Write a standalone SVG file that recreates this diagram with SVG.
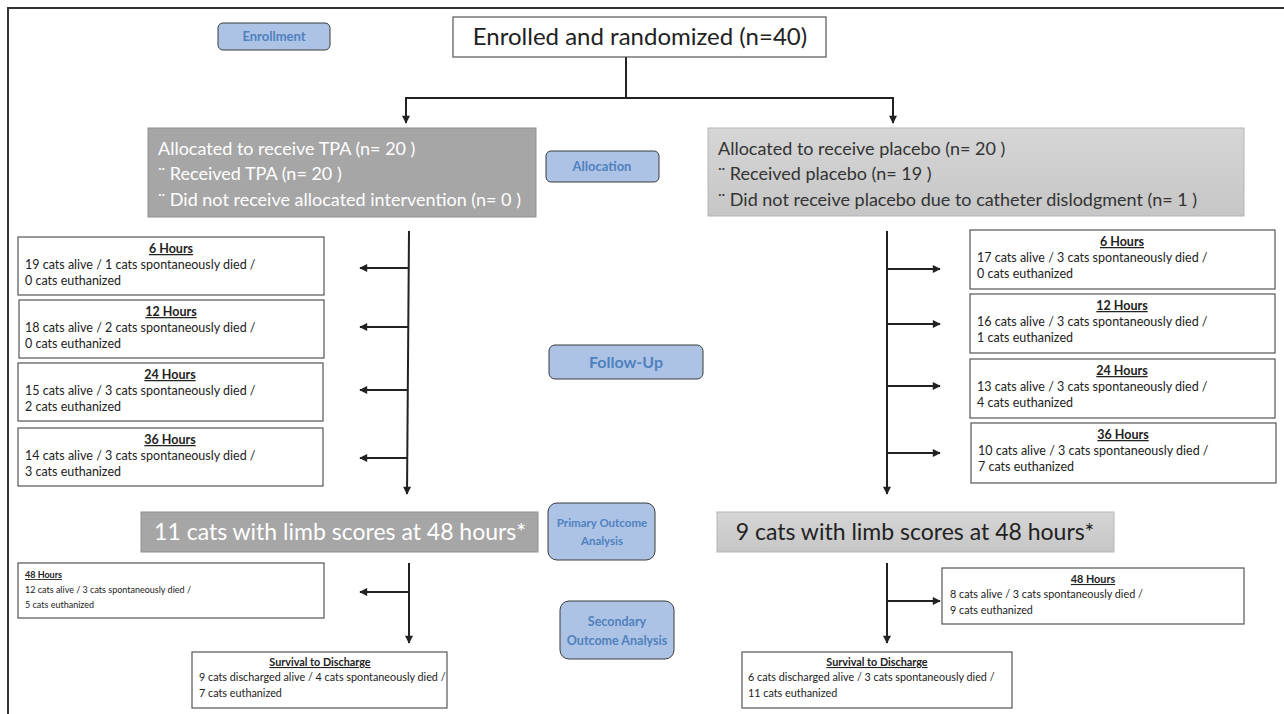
<svg xmlns="http://www.w3.org/2000/svg" width="1284" height="714" viewBox="0 0 1284 714">
<defs>
<marker id="ah" viewBox="0 0 10 10" refX="9" refY="5" markerWidth="9" markerHeight="8" markerUnits="userSpaceOnUse" orient="auto">
<path d="M0,0 L10,5 L0,10 Z" fill="#222"/>
</marker>
<linearGradient id="lg" x1="0" y1="0" x2="0" y2="1">
<stop offset="0" stop-color="#d6d6d6"/>
<stop offset="1" stop-color="#c6c6c6"/>
</linearGradient>
<style>
text{font-family:Lato,"Liberation Sans",sans-serif;}
.btn{fill:#adc3e6;stroke:#3a3a3a;stroke-width:1;}
.btnt{fill:#4f81bd;font-weight:bold;font-size:13px;text-anchor:middle;}
.wb{fill:#fff;stroke:#555;stroke-width:1.2;}
.t{fill:#222;font-size:12.5px;}
.tt{fill:#222;font-size:12.5px;font-weight:bold;text-decoration:underline;}
.s{font-size:10.8px;}
.xs{font-size:9px;}
.c{text-anchor:middle;}
.dk{fill:#a6a6a6;stroke:#8f8f8f;stroke-width:1;}
.lt{fill:url(#lg);stroke:#b5b5b5;stroke-width:1;}
.wt{fill:#fff;font-size:18px;}
.gt{fill:#333;font-size:18px;}
.ln{stroke:#222;stroke-width:2;fill:none;}
.ar{stroke:#222;stroke-width:2;fill:none;marker-end:url(#ah);}
</style>
</defs>
<rect x="0" y="0" width="1284" height="714" fill="#fff"/>
<path d="M8,714 V8 H1284" fill="none" stroke="#333" stroke-width="2"/>

<g id="connectors">
<path class="ln" d="M626,57 V98"/>
<path class="ar" d="M626,98 H406 V123"/>
<path class="ar" d="M626,98 H893 V123"/>
<path class="ar" d="M409,231 L407,494"/>
<path class="ar" d="M409,268 H360"/>
<path class="ar" d="M409,327 H360"/>
<path class="ar" d="M408,390 H360"/>
<path class="ar" d="M408,458 H360"/>
<path class="ar" d="M887,231 V494"/>
<path class="ar" d="M887,269 H940"/>
<path class="ar" d="M887,324 H940"/>
<path class="ar" d="M887,386 H940"/>
<path class="ar" d="M887,453 H940"/>
<path class="ar" d="M409,563 V643"/>
<path class="ar" d="M409,592 H360"/>
<path class="ar" d="M887,563 V643"/>
<path class="ar" d="M887,601 H940"/>
</g>

<g id="enrollment"><rect class="btn" x="218" y="23" width="112" height="27" rx="5"/><text class="btnt" x="274" y="41">Enrollment</text></g>
<g id="enrolled"><rect class="wb" x="453" y="17" width="373" height="40"/><text x="640" y="45" class="c" style="fill:#222;font-size:24px;">Enrolled and randomized (n=40)</text></g>

<g id="alloc-tpa"><rect class="dk" x="148" y="128" width="388" height="89"/>
<text class="wt" x="158" y="155">Allocated to receive TPA (n= 20 )</text>
<text class="wt" x="158" y="180">¨ Received TPA (n= 20 )</text>
<text class="wt" x="158" y="206">¨ Did not receive allocated intervention (n= 0 )</text></g>
<g id="allocation"><rect class="btn" x="546" y="151" width="113" height="31" rx="5"/><text class="btnt" x="602" y="171">Allocation</text></g>
<g id="alloc-placebo"><rect class="lt" x="708" y="128" width="536" height="88"/>
<text class="gt" x="718" y="155">Allocated to receive placebo (n= 20 )</text>
<text class="gt" x="718" y="180">¨ Received placebo (n= 19 )</text>
<text class="gt" x="718" y="206">¨ Did not receive placebo due to catheter dislodgment (n= 1 )</text></g>

<g id="l6"><rect class="wb" x="18" y="237" width="306" height="58"/><text class="tt c" x="171" y="253">6 Hours</text><text class="t" x="25" y="269">19 cats alive / 1 cats spontaneously died /</text><text class="t" x="25" y="285">0 cats euthanized</text></g>
<g id="l12"><rect class="wb" x="19" y="300" width="305" height="58"/><text class="tt c" x="171" y="316">12 Hours</text><text class="t" x="25" y="332">18 cats alive / 2 cats spontaneously died /</text><text class="t" x="25" y="348">0 cats euthanized</text></g>
<g id="l24"><rect class="wb" x="18" y="363" width="305" height="58"/><text class="tt c" x="170" y="379">24 Hours</text><text class="t" x="25" y="395">15 cats alive / 3 cats spontaneously died /</text><text class="t" x="25" y="411">2 cats euthanized</text></g>
<g id="l36"><rect class="wb" x="18" y="428" width="305" height="58"/><text class="tt c" x="170" y="444">36 Hours</text><text class="t" x="25" y="460">14 cats alive / 3 cats spontaneously died /</text><text class="t" x="25" y="476">3 cats euthanized</text></g>

<g id="followup"><rect class="btn" x="549" y="345" width="154" height="34" rx="6"/><text class="btnt" x="626" y="368" style="font-size:16px;">Follow-Up</text></g>

<g id="r6"><rect class="wb" x="970" y="230" width="305" height="59"/><text class="tt c" x="1122" y="246">6 Hours</text><text class="t" x="977" y="262">17 cats alive / 3 cats spontaneously died /</text><text class="t" x="977" y="278">0 cats euthanized</text></g>
<g id="r12"><rect class="wb" x="970" y="294" width="305" height="59"/><text class="tt c" x="1122" y="310">12 Hours</text><text class="t" x="977" y="326">16 cats alive / 3 cats spontaneously died /</text><text class="t" x="977" y="342">1 cats euthanized</text></g>
<g id="r24"><rect class="wb" x="970" y="359" width="305" height="59"/><text class="tt c" x="1122" y="375">24 Hours</text><text class="t" x="977" y="391">13 cats alive / 3 cats spontaneously died /</text><text class="t" x="977" y="407">4 cats euthanized</text></g>
<g id="r36"><rect class="wb" x="971" y="423" width="305" height="60"/><text class="tt c" x="1123" y="439">36 Hours</text><text class="t" x="978" y="455">10 cats alive / 3 cats spontaneously died /</text><text class="t" x="978" y="471">7 cats euthanized</text></g>

<g id="primary-tpa"><rect class="dk" x="141" y="512" width="397" height="40"/><text x="340" y="540" class="c" style="fill:#fff;font-size:23px;">11 cats with limb scores at 48 hours*</text></g>
<g id="primary"><rect class="btn" x="548" y="503" width="107" height="57" rx="9"/><text class="btnt" x="602" y="527" style="font-size:11.5px;">Primary Outcome</text><text class="btnt" x="602" y="545" style="font-size:11.5px;">Analysis</text></g>
<g id="primary-placebo"><rect class="lt" x="717" y="512" width="397" height="40"/><text x="915" y="540" class="c" style="fill:#222;font-size:23px;">9 cats with limb scores at 48 hours*</text></g>

<g id="l48"><rect class="wb" x="18" y="563" width="306" height="55"/><text class="tt xs" x="25" y="578">48 Hours</text><text class="t xs" x="25" y="593">12 cats alive / 3 cats spontaneously died /</text><text class="t xs" x="25" y="608">5 cats euthanized</text></g>
<g id="secondary"><rect class="btn" x="560" y="601" width="114" height="58" rx="9"/><text class="btnt" x="617" y="626" style="font-size:12.5px;">Secondary</text><text class="btnt" x="617" y="645" style="font-size:12.5px;">Outcome Analysis</text></g>
<g id="r48"><rect class="wb" x="942" y="568" width="302" height="56"/><text class="tt c s" x="1093" y="583">48 Hours</text><text class="t s" x="950" y="598">8 cats alive / 3 cats spontaneously died /</text><text class="t s" x="950" y="614">9 cats euthanized</text></g>

<g id="ls"><rect class="wb" x="192" y="652" width="255" height="56"/><text class="tt c s" x="320" y="666">Survival to Discharge</text><text class="t s" x="199" y="681">9 cats discharged alive / 4 cats spontaneously died /</text><text class="t s" x="199" y="697">7 cats euthanized</text></g>
<g id="rs"><rect class="wb" x="742" y="652" width="270" height="56"/><text class="tt c s" x="877" y="666">Survival to Discharge</text><text class="t s" x="748" y="681">6 cats discharged alive / 3 cats spontaneously died /</text><text class="t s" x="748" y="697">11 cats euthanized</text></g>
</svg>
